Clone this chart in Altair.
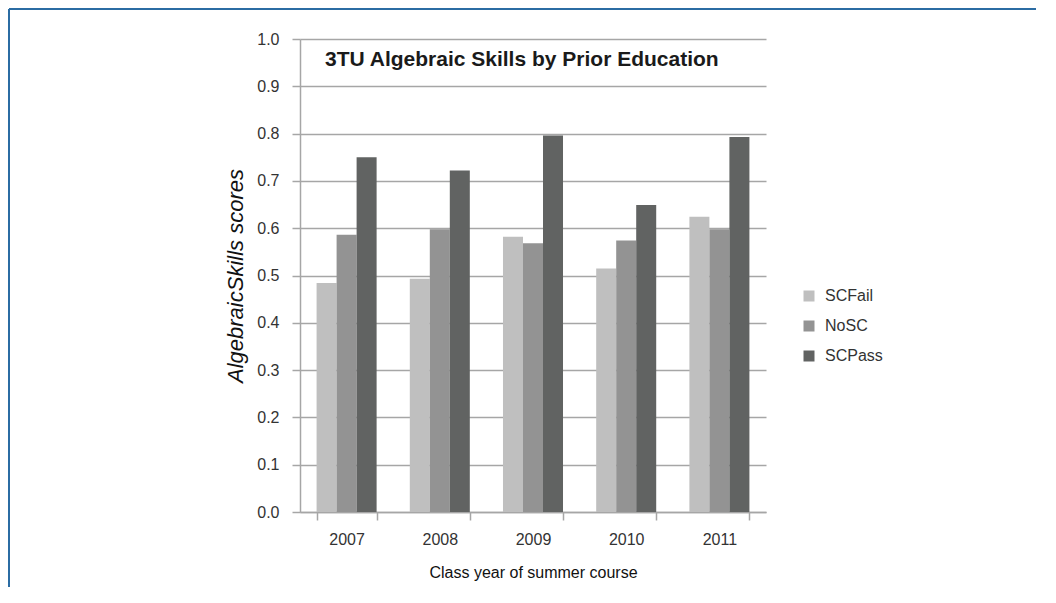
import altair as alt
import pandas as pd

years = ["2007", "2008", "2009", "2010", "2011"]
groups = ["SCFail", "NoSC", "SCPass"]
scfail = [0.484, 0.493, 0.582, 0.515, 0.624]
nosc = [0.586, 0.598, 0.568, 0.574, 0.598]
scpass = [0.750, 0.722, 0.796, 0.649, 0.793]
colors = ["#bfbfbf", "#939393", "#616362"]
y_ticks = [round(i * 0.1, 1) for i in range(11)]

title_text = "3TU Algebraic Skills by Prior Education"

rows = []
for i, yr in enumerate(years):
    for g, vals in zip(groups, [scfail, nosc, scpass]):
        rows.append({"year": yr, "group": g, "value": vals[i]})
df = pd.DataFrame(rows)

FONT = "Liberation Sans"

bars = alt.Chart(df).mark_bar().encode(
    x=alt.X("year:N", sort=years,
            scale=alt.Scale(paddingInner=0.356, paddingOuter=0.178),
            axis=alt.Axis(title="Class year of summer course", labelAngle=0,
                          tickBand="extent", grid=False, domainColor="#a6a6a6",
                          tickColor="#a6a6a6", tickSize=8, domainWidth=1.5, tickWidth=1.5,
                          labelFontSize=16, labelColor="#333333", labelPadding=11,
                          titleFontSize=16, titleColor="#111111", titleFontWeight="normal",
                          titlePadding=17, labelFont=FONT, titleFont=FONT)),
    xOffset=alt.XOffset("group:N", sort=groups, scale=alt.Scale(paddingInner=0, paddingOuter=0)),
    y=alt.Y("value:Q", scale=alt.Scale(domain=[0, 1], nice=False),
            axis=alt.Axis(title="AlgebraicSkills scores", values=y_ticks, format=".1f",
                          grid=True, gridColor="#a6a6a6", gridWidth=1.5,
                          domainColor="#a6a6a6", domainWidth=1.5, tickColor="#a6a6a6",
                          tickWidth=1.5, tickSize=8, labelFontSize=16, labelColor="#333333",
                          labelPadding=13, titleFontSize=22, titleColor="#111111",
                          titleFontWeight="normal", titleFontStyle="italic",
                          titlePadding=9, labelFont=FONT, titleFont=FONT)),
    color=alt.Color("group:N", sort=groups,
                    scale=alt.Scale(domain=groups, range=colors),
                    legend=alt.Legend(title=None, orient="none", legendX=501, legendY=249,
                                      symbolType="square", symbolSize=121,
                                      symbolStrokeWidth=0, labelFontSize=16,
                                      labelColor="#333333", labelFont=FONT,
                                      rowPadding=14, padding=0, labelOffset=8)),
)

title = alt.Chart(pd.DataFrame({"t": [title_text]})).mark_text(
    align="left", baseline="alphabetic", fontSize=21, fontWeight="bold",
    font=FONT, color="#1a1a1a"
).encode(text="t:N", x=alt.value(25), y=alt.value(27))

frame_top = alt.Chart(pd.DataFrame({"a": [0]})).mark_rule(color="#2b6ca3", strokeWidth=2).encode(
    x=alt.value(-291), x2=alt.value(760), y=alt.value(-30))
frame_left = alt.Chart(pd.DataFrame({"a": [0]})).mark_rule(color="#2b6ca3", strokeWidth=2).encode(
    x=alt.value(-291), y=alt.value(-30), y2=alt.value(560))

chart = alt.layer(bars, title, frame_top, frame_left).properties(
    width=466, height=473,
    autosize=alt.AutoSizeParams(type="none"),
    padding={"left": 292, "top": 31, "right": 270, "bottom": 75},
).configure(background="white", view=alt.ViewConfig(stroke=None))

chart.save("out.html", embed_options={"renderer": "svg", "actions": False})
